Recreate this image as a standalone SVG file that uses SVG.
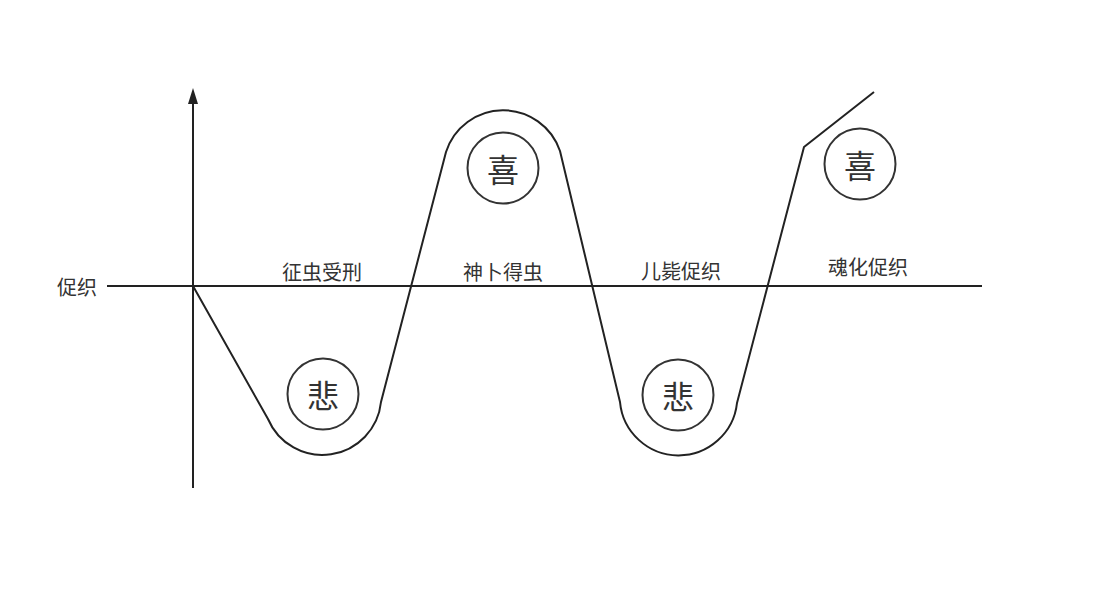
<svg xmlns="http://www.w3.org/2000/svg" width="1096" height="591" viewBox="0 0 1096 591">
<style>
.ln{fill:none;stroke:#222;stroke-width:2;stroke-linejoin:round}
.c{fill:none;stroke:#333;stroke-width:2}
.t{font-family:"Noto Sans CJK SC","Noto Sans",sans-serif;fill:#333;font-size:20px;text-anchor:middle;dominant-baseline:central}
.big{font-size:32px}
</style>
<rect width="1096" height="591" fill="#fff"/>
<g id="axes">
<line class="ln" x1="193" y1="488" x2="193" y2="100"/>
<polygon points="193,88 188,104 198,104" fill="#222"/>
<line class="ln" x1="107" y1="286" x2="982" y2="286"/>
</g>
<g id="connectors">
<path class="ln" d="M193,286 L268,419 A59,59 0 0 0 381,402 L446,152 A60,60 0 0 1 560,151 L620,402 A58.8,58.8 0 0 0 737,403 L804,147 L874,92"/>
</g>
<g id="label-y"><text class="t" x="77" y="286.5">促织</text></g>
<g id="label1"><text class="t" x="322" y="271">征虫受刑</text></g>
<g id="label2"><text class="t" x="503" y="271">神卜得虫</text></g>
<g id="label3"><text class="t" x="681" y="270">儿毙促织</text></g>
<g id="label4"><text class="t" x="868" y="266">魂化促织</text></g>
<g id="sad1"><circle class="c" cx="323" cy="394" r="35.5"/><text class="t big" x="323" y="394">悲</text></g>
<g id="joy1"><circle class="c" cx="503" cy="168" r="35.5"/><text class="t big" x="503" y="168">喜</text></g>
<g id="sad2"><circle class="c" cx="678" cy="395" r="35.5"/><text class="t big" x="678" y="395">悲</text></g>
<g id="joy2"><circle class="c" cx="860" cy="164" r="35.5"/><text class="t big" x="860" y="164">喜</text></g>
</svg>
